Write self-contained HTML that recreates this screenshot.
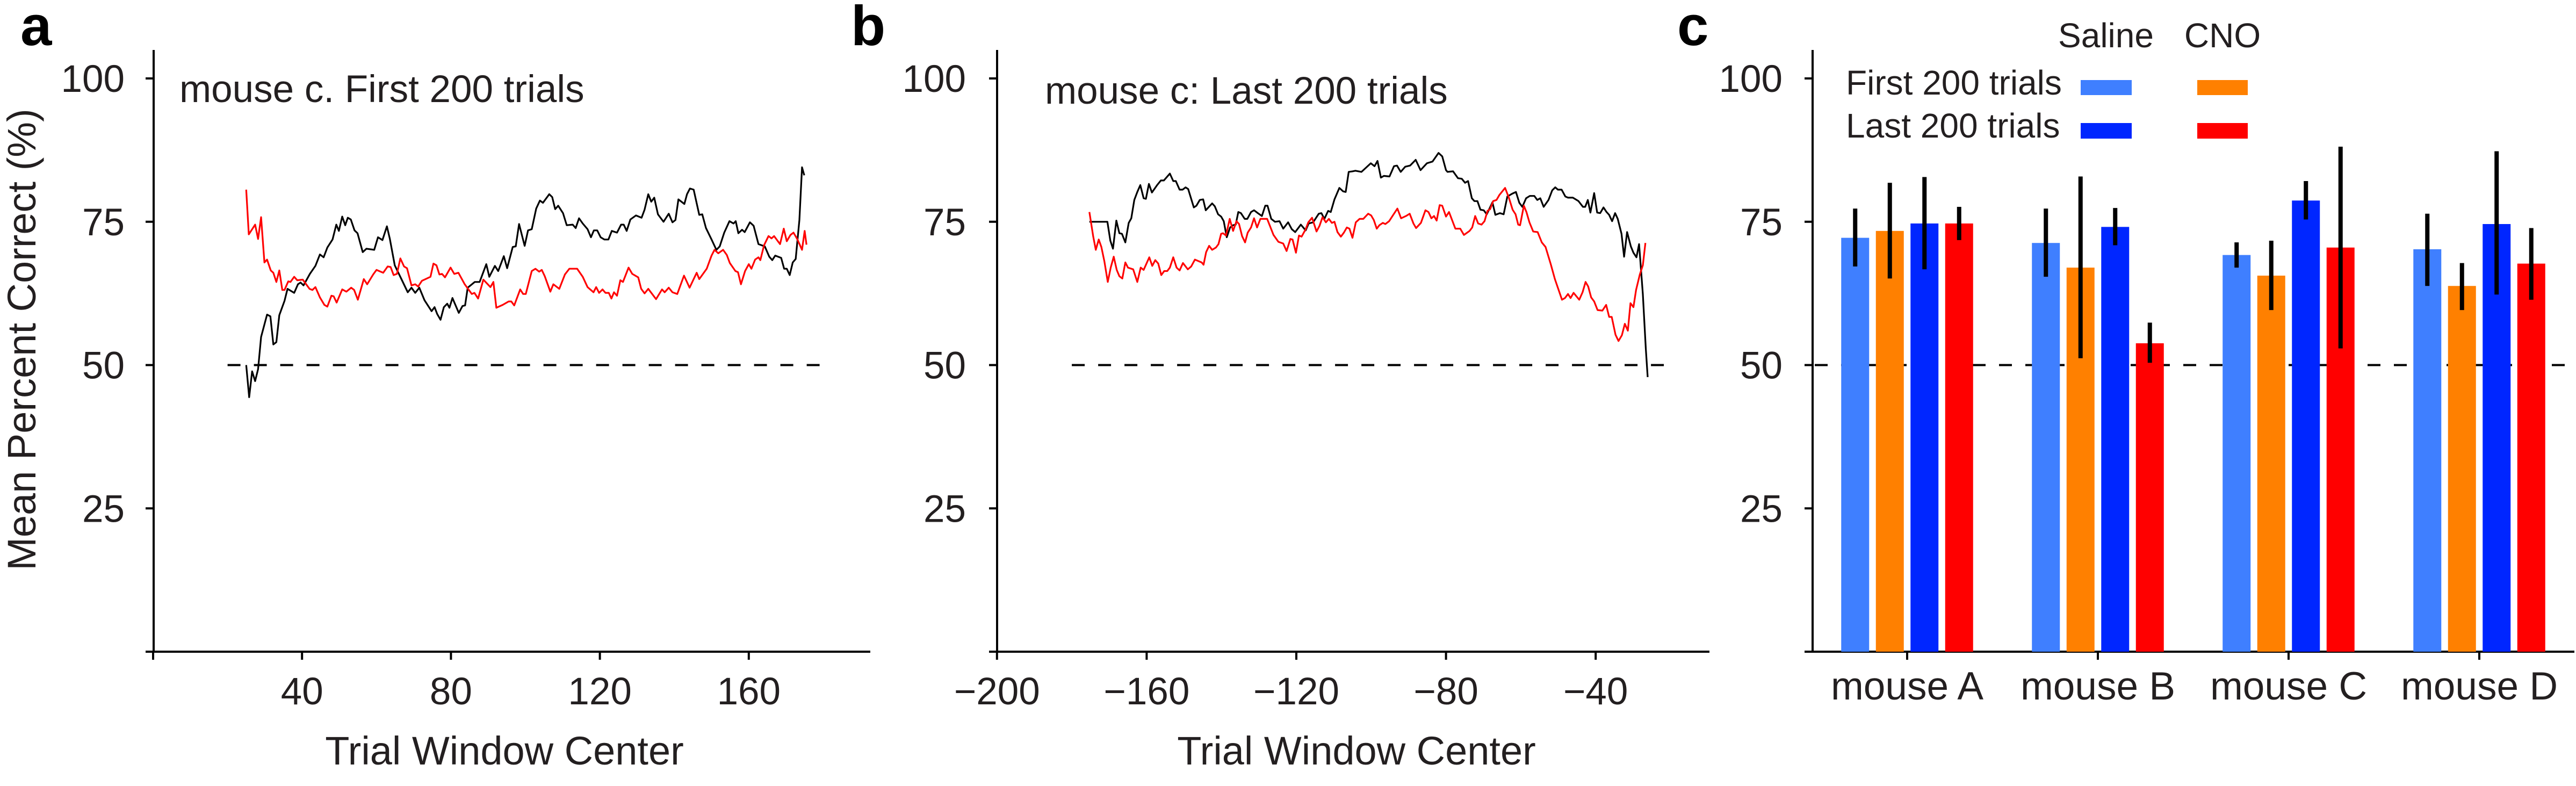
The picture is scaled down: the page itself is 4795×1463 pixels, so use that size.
<!DOCTYPE html>
<html><head><meta charset="utf-8"><style>
html,body{margin:0;padding:0;background:#fff;}
svg{display:block;font-family:"Liberation Sans",Arial,sans-serif;}
text{fill:#231f20;}
</style></head><body>
<svg id="fig" xmlns="http://www.w3.org/2000/svg" width="4795" height="1463" viewBox="0 0 4795 1463">
<text x="38" y="84" font-size="105" font-weight="bold" style="fill:#000">a</text>
<text x="1584" y="84" font-size="105" font-weight="bold" style="fill:#000">b</text>
<text x="3122" y="84" font-size="105" font-weight="bold" style="fill:#000">c</text>
<text transform="translate(66,632) rotate(-90)" text-anchor="middle" font-size="74">Mean Percent Correct (%)</text>
<text x="334" y="190" font-size="71">mouse c. First 200 trials</text>
<text x="1945" y="193" font-size="71">mouse c: Last 200 trials</text>
<text x="939" y="1423" text-anchor="middle" font-size="74">Trial Window Center</text>
<text x="2525" y="1423" text-anchor="middle" font-size="74">Trial Window Center</text>
<g id="ga"></g><g id="gb"></g><g id="gc"></g>
<g>
<text x="3920" y="88" text-anchor="middle" font-size="64">Saline</text>
<text x="4137" y="88" text-anchor="middle" font-size="64">CNO</text>
<text x="3436" y="176" font-size="64">First 200 trials</text>
<text x="3436" y="256" font-size="64">Last 200 trials</text>
<rect x="3873" y="149" width="95" height="28" fill="#3f7fff"/>
<rect x="4090" y="149" width="94" height="28" fill="#ff8000"/>
<rect x="3873" y="229" width="95" height="29" fill="#0026ff"/>
<rect x="4090" y="229" width="94" height="29" fill="#ff0000"/>
</g>
</svg>
<script>
// ---- data ----
const aBlackX=[25,25.8,26.6,27.4,28.2,29,30.6,31.5,32.3,33.1,33.9,35.3,36.1,37.9,38.9,39.6,40.4,42.1,43.6,44.8,45.8,46.8,48.2,49.2,49.9,50.8,51.6,52.3,53.1,54.1,54.9,56.3,57.3,59.4,60.4,61.6,62.8,63.6,64.9,66.7,68.4,69.4,70.4,71.5,72.9,74.8,75.6,76.3,77.2,78.1,79,79.6,80.4,82.1,83.1,83.8,84.5,86.4,87.7,89.5,90.3,91.8,92.7,94.2,95.1,96.6,97.4,98.3,99.8,100.7,101.7,102.9,103.9,104.7,106.4,107.2,108,108.8,110.1,111.1,112.7,113.5,114.4,115.4,116.7,117.6,118.4,119.3,120.2,121.2,122.3,123.2,124.6,125.7,126.4,127.2,128.2,129.7,131.2,132,133,133.8,134.6,135.6,137.1,138.5,139.5,140.3,141.1,142.7,143.4,144.2,145.2,146.7,147.5,148.5,150,151.3,152.2,153.4,154.8,155.9,156.5,157.2,158.2,158.9,160.3,161.3,162.6,164.3,165.5,166.3,167.1,168.7,169.5,170.2,171,171.8,172.6,173.6,174.3,174.9];
const aBlackY=[50,44.4,48.9,47.2,49.3,54.9,58.8,58.5,53.6,54,58.7,61.2,63.3,62.6,64.1,64.4,63.9,65.9,67.3,69.3,68.8,70.5,71.9,74.5,73.4,75.9,74.4,75.7,75.4,73.5,73,69.7,70.3,70.1,72.3,71.8,74.2,72,67.4,65,62.7,63.5,62.6,63.5,61.3,59.4,60.1,58.9,57.9,60.1,60.7,60,61.7,59.1,60.3,60.4,63.5,64.5,64.5,67.6,65.4,67.3,66.4,69,66.9,70.6,70.7,74.6,70.8,73.5,73.7,77.3,78.7,78.3,79.8,79.3,77.2,77.8,76.5,74.4,74.5,73.9,75.6,74.7,73.7,72.3,73.5,73.5,72.3,71.9,71.9,73.4,73.1,74.5,74.5,73.4,75.4,76.1,75.7,77.1,79.8,78.5,79.2,76.3,75,76.4,74.9,75.3,78.9,78.1,79.8,80.8,80.6,76.2,76.3,73.9,71.9,70.1,70.7,73.1,75.1,74.7,75.1,73,73.6,73.2,74.9,74.3,71.1,70.7,68.9,68.3,69.1,68.7,66.8,66.8,65.7,67.9,68.5,75.3,84.5,83.1];
const aRedX=[25,25.7,27.4,28.2,29,29.9,30.6,31.6,32.3,33.1,33.9,34.7,35.3,36.3,36.9,37.9,38.7,40.2,42,42.8,43.6,44.8,46,46.8,47.9,48.5,49.3,50.8,51.9,53.2,54,55,56.6,57.5,59.1,60,61.8,63,63.8,64.6,65.5,66.4,67.4,68.2,69.4,70.4,71.2,72.2,73.5,74.5,75.3,76.1,76.9,77.6,78.4,79.9,80.9,82,83.7,85.6,86.3,87.3,88.7,90.6,91.4,92.2,93.9,95.5,96.2,97,98.6,99.4,100.1,101.7,102.7,103.7,104.4,105.2,106.7,107.5,109.1,110.6,111.8,113.9,115.4,116.7,118.3,119,119.8,120.7,121.5,122.4,123.1,123.8,124.6,125.5,126.2,127.7,128.7,130.3,131.1,132,133,135.1,136.7,137.4,138.5,139.5,140.8,142.6,144.1,146,146.7,148.7,150,150.8,151.8,153.1,154.1,154.9,156.4,157.1,157.9,159,160,160.7,161.7,162.6,163.1,164.1,165.3,166.1,166.8,168.4,169.4,170.2,171.2,172,173,174.3,175,175.5];
const aRedY=[80.6,72.8,74.5,72,75.8,67.9,68.4,66.5,66.1,64.5,66.5,63.1,63.1,64.6,64.5,65.4,64.8,64.9,63.3,63.1,63.6,61.8,60.5,60.2,62.1,62,60.9,63.2,62.8,63.5,63.1,61.4,65,64.1,65.8,66.6,66.1,67.2,67.1,65.7,65.9,68.6,67.2,66.9,63.9,64.1,63.7,64.7,65.1,65.4,67.7,67.4,65.8,65.9,65.3,67,65.9,66.1,64.1,62.4,62.6,61.6,64.9,63.6,64.5,60,60.5,61.1,61.1,60.4,63.2,62.4,62.4,66.4,66.8,66.3,66.6,65.5,62.8,64.1,63.3,65.8,66.8,66.8,65.4,63.6,62.7,63.6,62.6,63.2,62.6,62.6,61.6,62.7,62.1,64.8,64.5,67,65.9,65.3,63.3,62.5,63.3,61.5,63.2,62.7,63.5,62.7,62.4,65.6,63.5,66.1,65,66.8,69.1,70.1,69.5,70.1,69.2,67.8,66.4,66.2,64.1,66.4,67.6,66.8,68.4,68.8,68.3,70.9,72.5,72.1,72.5,71.1,73.8,71.6,72.7,73.1,72,70.1,73.4,71];
const bBlackX=[-175.3,-170.5,-169.7,-169,-168.1,-167.3,-166.6,-165.7,-164.8,-164.1,-163.3,-162.5,-161.7,-160.8,-160.2,-159.4,-158.6,-157.2,-156.2,-155.4,-153.8,-152.9,-152.2,-151.2,-150.4,-149.6,-148.9,-147.4,-146.7,-145.8,-144.9,-144.2,-142.5,-141.8,-140.9,-140.1,-139.4,-138.6,-137.7,-136.9,-136.2,-135.5,-134.8,-133.8,-133.1,-132.1,-131.3,-130.3,-129.2,-128.3,-127.7,-126.7,-125.7,-124.5,-123.5,-122.2,-121.2,-120.3,-118.8,-117.5,-116.7,-115.5,-114,-113.3,-112.5,-111.5,-110.8,-109.8,-108.5,-107.5,-106.8,-106,-105,-104.2,-102.6,-101.6,-100.1,-99.1,-98.3,-97.4,-96.6,-95.1,-93.9,-93.1,-92.1,-90.9,-89.6,-88.1,-86.8,-85.1,-83.6,-82,-81,-80,-79.6,-78.1,-76.8,-75.8,-74.9,-74.1,-73.1,-72.4,-71.6,-70.8,-69.9,-69.1,-68.3,-67.6,-66.8,-65.6,-64.6,-63.6,-62.3,-61.3,-60.4,-59.6,-58.6,-57.6,-56.4,-55.6,-54.8,-53.9,-52.6,-51.6,-50.8,-50.1,-49.1,-48.1,-47.4,-46.1,-44.6,-43.4,-42.8,-42.1,-41.4,-40.4,-39.6,-38.8,-37.9,-37.1,-36.4,-35.6,-34.8,-34.1,-33.1,-32.4,-31.6,-30.6,-29.9,-29.1,-28.4,-27.4,-26.6,-26.1];
const bBlackY=[75,75,71.7,70.3,75.2,73,72.9,71.4,74.8,75.6,78.8,80.2,81.4,79.1,79,81.6,80.1,81.4,82.2,82.2,83.4,82.1,82.1,80.6,80.6,81,80.7,77.5,77.8,78.8,78.9,77,78.2,77.7,76.3,75.9,75.1,72.3,74,74.4,74.5,76.7,76.5,75.5,75.5,76.7,77,76.5,76,77.8,77.8,75.5,75,75.1,73.8,74.9,73.7,73.2,74.5,73.5,74.7,74.9,76.4,76.5,75.5,76.9,76.7,78.9,80.9,80.3,80.2,83.7,83.8,83.9,83.7,84.3,85.2,84.7,85.6,82.7,83,82.9,84.7,84.8,83.7,84.6,84.8,85.8,84,85.2,85.5,87,86.4,84,83.7,83.8,82.6,82.5,81.8,82.1,79.1,78.6,78.6,77.1,77,76.3,77.4,78.4,76.2,76.5,76.3,79.4,79.9,80.2,78.3,77.6,79.1,79.5,79.5,78.8,79.1,77.6,78.8,80.5,81,80.6,80.6,79.4,79.2,79.2,78.6,77.6,77.6,78.8,76.6,80,76.6,76.5,77.5,76.7,76.2,75.1,76.5,75.5,72.9,68.9,73.2,70.7,69.6,68.8,71.1,62.4,52.9,47.9];
const bRedX=[-175.3,-174.3,-173.6,-172.8,-172.1,-171.3,-170.4,-169.6,-168.8,-168,-167.3,-166.5,-165.7,-165,-163.6,-162.5,-161.6,-160.8,-159.3,-158.5,-157.7,-156.9,-156.1,-155.3,-154.5,-153.8,-152.9,-152,-151.2,-150.3,-149,-148.1,-147.1,-145.3,-144.8,-144.1,-143.3,-142.5,-141.5,-140.8,-140.1,-139.6,-138.8,-137.8,-136.9,-136,-135.3,-134.5,-133.7,-133,-132.1,-131.3,-130.5,-129.6,-128.8,-127.8,-126.1,-124.8,-123.5,-122.6,-121.6,-121,-120.1,-119.3,-118.6,-117.5,-116.8,-115.8,-114.6,-113.8,-113,-112.1,-111.3,-110.5,-109.8,-109,-108.1,-107.3,-106.5,-105.8,-105,-104.1,-103.1,-102.1,-100.8,-100,-99.3,-98.5,-97.8,-96.9,-96.2,-95.2,-94.2,-93,-92,-90.7,-89.7,-88.7,-88,-86.7,-85.5,-84.7,-83.9,-83.2,-82.5,-81.7,-81,-80,-79.2,-77.5,-76.2,-75.2,-73.7,-73,-72.2,-71.4,-70.5,-69.7,-68.9,-68.2,-67.4,-66.5,-65.7,-64.2,-63.2,-62.2,-61.4,-60.7,-60.2,-59.2,-58.5,-57.7,-56.7,-55.5,-54.4,-53.4,-52,-50.9,-49,-48.2,-47.4,-46.7,-45.9,-44.4,-43.5,-42.7,-42,-41.2,-40.4,-39.5,-38.2,-37.2,-36.4,-35.7,-34.7,-33.9,-33,-32.2,-31.4,-30.7,-29.9,-29.2,-28.2,-27.4,-26.7];
const bRedY=[76.7,72.5,70.1,71.9,70.6,68.1,64.5,67,68.9,66.6,65.5,65.1,67.9,67,66.7,64.5,67,66.6,68.8,67.3,68.3,67.7,65.7,66.4,66.4,67,68.8,67,66.5,67.8,66.7,67.2,68.4,67.9,67.5,69.7,70.8,70.1,70.5,71.1,72.9,73,72.6,75.5,73.4,75.1,74.6,72.5,71.4,73.1,74,75.6,74,75.5,75.5,75.5,72.7,71.5,71.2,69.9,72,71.9,69.6,72.6,72.4,73.7,74.9,75.7,73.3,74.3,75.8,74.9,75.5,74.8,75,73.2,72.4,73.1,74,73.8,72.2,74.9,75.5,75.5,76.4,76.1,75.3,73.8,74.4,74.8,74.6,75.1,76.1,77.3,75.6,76,76.4,74.7,73.9,74.8,77,76.7,75.6,76,75.2,77.9,77.8,75.9,76.7,73.8,73.8,72.7,73.4,74,76,74.7,74.5,75.1,76.9,77.2,78.6,78.8,79.7,80.9,79.2,77.1,76.3,74.5,74.4,77.8,76.7,74.9,73.3,73.2,71.4,70.6,67.6,65,61.4,61.7,62.4,61.7,62.6,61.4,62.7,64.5,63.7,61.8,61.1,59.6,59.5,60.5,58.4,58.4,55.3,54.2,55.2,57.2,56,60.8,60.1,63.1,65.8,67.4,71.3];
const yTicks=[25,50,75,100];
const aXTicks=[40,80,120,160];
const bXTicks=[-200,-160,-120,-80,-40];
const mice=["mouse A","mouse B","mouse C","mouse D"];
const salineFirst=[72.2,71.3,69.2,70.2];
const cnoFirst=[73.4,67.0,65.6,63.8];
const salineLast=[74.7,74.1,78.7,74.6];
const cnoLast=[74.7,53.8,70.5,67.7];
const salineFirstErr=[[67.2,77.3],[65.4,77.3],[67.0,71.4],[63.8,76.4]];
const cnoFirstErr=[[65.1,81.8],[51.2,82.9],[59.6,71.7],[59.6,67.8]];
const salineLastErr=[[66.7,82.8],[70.9,77.4],[75.4,82.1],[62.3,87.3]];
const cnoLastErr=[[71.8,77.6],[50.4,57.4],[52.9,88.1],[61.4,73.9]];

// ---- scales ----
const NS="http://www.w3.org/2000/svg";
function yv(v){return 1213-v*10.67;}
function xa(t){return 285+6.93*t;}
function xb(t){return 2413+(t+120)*6.965;}
function xc(i){return 3550+355*i;}
function mk(tag,attrs,parent){const e=document.createElementNS(NS,tag);for(const k in attrs)e.setAttribute(k,attrs[k]);parent.appendChild(e);return e;}

function axes(g,axX,x0,x1,labRight,pre){
  let e=mk('line',{x1:axX,y1:yv(0),x2:axX,y2:93,stroke:'#000','stroke-width':4},g);
  
  
  e=mk('line',{x1:axX,y1:yv(0),x2:x1,y2:yv(0),stroke:'#000','stroke-width':4},g);
  
  
  [0].concat(yTicks).forEach(v=>{
    const t=mk('line',{x1:axX-15,y1:yv(v),x2:axX,y2:yv(v),stroke:'#000','stroke-width':4},g);
    
    
  });
  yTicks.forEach(v=>{
    const t=mk('text',{x:labRight,y:yv(v)+25,'text-anchor':'end','font-size':71},g);
    t.textContent=v;
    
    
  });
}
function series(g,xs,ys,xf,color,name){
  const d=xs.map((x,i)=>(i?'L':'M')+xf(x).toFixed(1)+','+yv(ys[i]).toFixed(1)).join('');
  const p=mk('path',{d:d,fill:'none',stroke:color,'stroke-width':3.2,'stroke-linejoin':'round'},g);
  
  
}
function xticks(g,ticks,xf,pre,zeroTick){
  const all=zeroTick!==null?[zeroTick].concat(ticks):ticks;
  all.forEach(t=>{
    const l=mk('line',{x1:xf(t),y1:yv(0),x2:xf(t),y2:yv(0)+15,stroke:'#000','stroke-width':4},g);
    
    
  });
  ticks.forEach(t=>{
    const l=mk('text',{x:xf(t),y:1311,'text-anchor':'middle','font-size':71},g);
    l.textContent=String(t).replace('-','\u2212');
    
    
  });
}
function dashed(g,x0,x1,name){
  const l=mk('line',{x1:x0,y1:yv(50),x2:x1,y2:yv(50),stroke:'#000','stroke-width':4,'stroke-dasharray':'24 25'},g);
  
  
}

// panel a
const ga=document.getElementById('ga');


axes(ga,286,286,1620,232,'panel-a');
xticks(ga,aXTicks,xa,'panel-a',0);
dashed(ga,xa(20),xa(180),'panel-a-chance-line');
series(ga,aBlackX,aBlackY,xa,'#000','panel-a-saline-line');
series(ga,aRedX,aRedY,xa,'#ff0000','panel-a-cno-line');

// panel b
const gb=document.getElementById('gb');


axes(gb,1856,1856,3182,1798,'panel-b');
xticks(gb,bXTicks,xb,'panel-b',null);
dashed(gb,xb(-180),xb(-20),'panel-b-chance-line');
series(gb,bBlackX,bBlackY,xb,'#000','panel-b-saline-line');
series(gb,bRedX,bRedY,xb,'#ff0000','panel-b-cno-line');

// panel c
const gc=document.getElementById('gc');


axes(gc,3374,3374,4792,3318,'panel-c');
dashed(gc,3378,4792,'panel-c-chance-line');
const sets=[[salineFirst,salineFirstErr,'#3f7fff','saline-first'],[cnoFirst,cnoFirstErr,'#ff8000','cno-first'],[salineLast,salineLastErr,'#0026ff','saline-last'],[cnoLast,cnoLastErr,'#ff0000','cno-last']];
mice.forEach((m,i)=>{
  sets.forEach((s,j)=>{
    const cx=xc(i)+(j-1.5)*64.5;
    const r=mk('rect',{x:cx-26,y:yv(s[0][i]),width:52,height:yv(0)-yv(s[0][i]),fill:s[2]},gc);
    
    
  });
});
mice.forEach((m,i)=>{
  sets.forEach((s,j)=>{
    const cx=xc(i)+(j-1.5)*64.5;
    const e=mk('line',{x1:cx,y1:yv(s[1][i][0]),x2:cx,y2:yv(s[1][i][1]),stroke:'#000','stroke-width':8},gc);
    
    
  });
  const t=mk('line',{x1:xc(i),y1:yv(0),x2:xc(i),y2:yv(0)+15,stroke:'#000','stroke-width':4},gc);
  
  
  const l=mk('text',{x:xc(i),y:1302,'text-anchor':'middle','font-size':73},gc);
  l.textContent=m;
  
  
});
</script>
</body></html>
